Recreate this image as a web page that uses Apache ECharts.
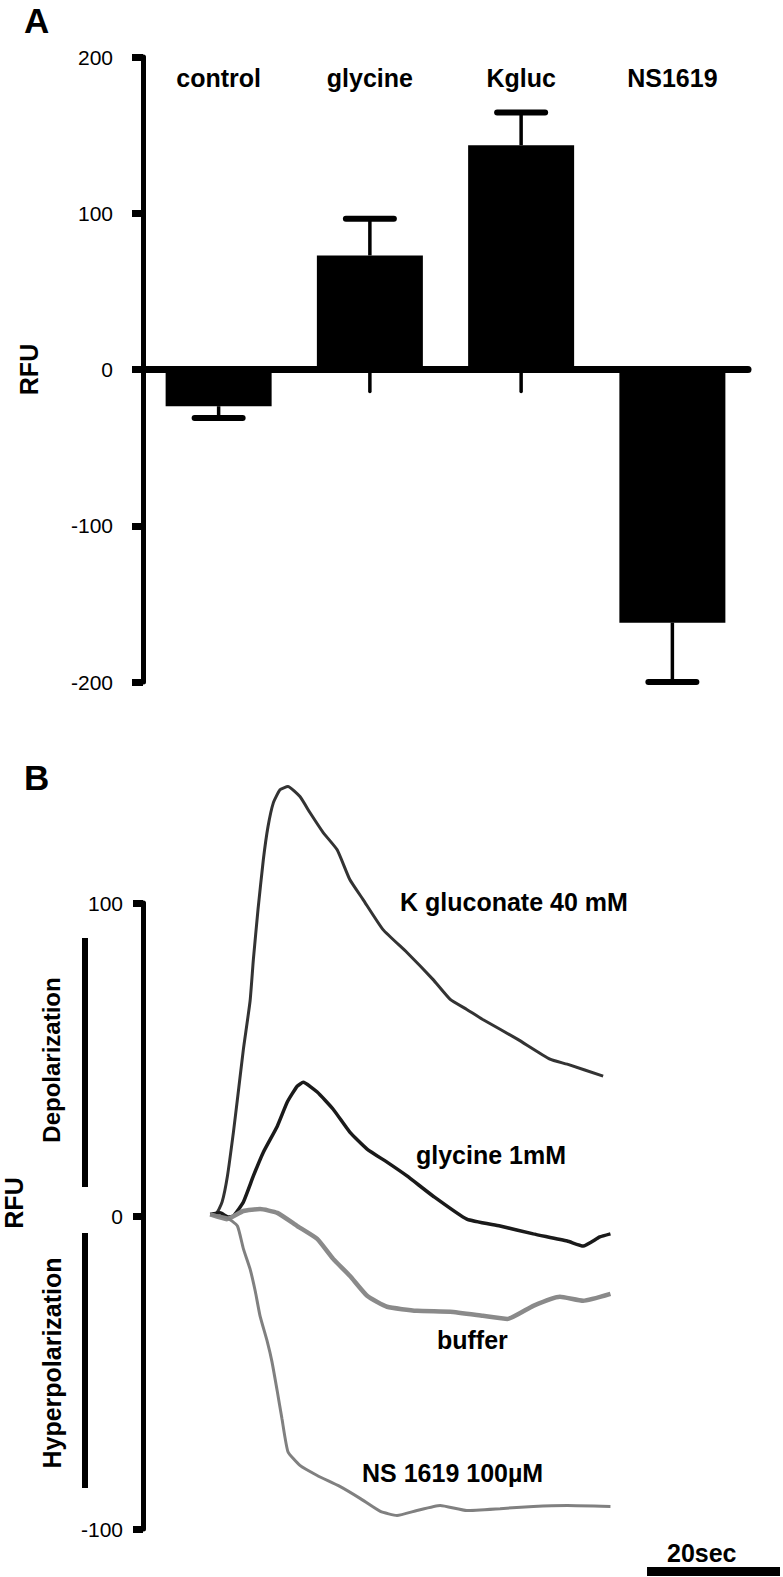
<!DOCTYPE html>
<html><head><meta charset="utf-8">
<script src="https://cdn.jsdelivr.net/npm/echarts@6/dist/echarts.min.js"></script>
<style>html,body{margin:0;padding:0;background:#fff}#c{width:783px;height:1577px}</style>
</head><body><div id="c"></div>
<script>
// ---------- Panel A data ----------
const categories = ['control', 'glycine', 'Kgluc', 'NS1619'];
const meanRFU = [-23.5, 73, 143.5, -162];
const semRFU = [7.5, 23.5, 21, 38];
const stubEnd = [null, -14, -14, null];
const barAxisMin = -200, barAxisMax = 200, barAxisStep = 100;

// ---------- Panel B data: [time (s), RFU] ----------
const kgluconate = [[0,0.5],[1,1],[1.8,4.5],[2.6,12.8],[3.5,26.8],[4.1,37.3],[5,53.3],[6,68.6],[6.5,82],[7.2,98],[8,113.9],[8.7,124.4],[9.5,132],[10.5,136.2],[11.7,137.2],[13.5,134],[15,128.9],[17,122.5],[19.1,117],[21,107.5],[23,101.1],[26,91.5],[29.6,84.2],[33.5,75.6],[36.1,69.2],[38.6,66],[41,62.8],[46.2,56.5],[51.1,50.1],[53.7,48.5],[59.1,44.7]];
const glycine1mM = [[0,0.5],[1.5,1],[2.7,-0.3],[3.5,0],[5,4.5],[6.5,12.8],[8,20.4],[10.1,28.7],[11.6,36.4],[13.1,41.5],[14,42.7],[16.1,39.6],[18.5,34.1],[21,26.8],[23.6,21.4],[26.6,17.2],[29.6,12.8],[33.5,6.4],[38.6,-1],[43.6,-3.2],[48.6,-5.7],[53.7,-8],[56.1,-9.6],[58.6,-6.7],[60.2,-5.7]];
const buffer = [[0,0.5],[2.5,-1],[5,1.6],[7.5,2.2],[10.1,1],[13.1,-3.2],[16.1,-7.3],[18.5,-13.7],[21,-19.1],[23.6,-25.5],[26.6,-29],[31.1,-30.3],[36.1,-30.6],[41,-31.9],[44.7,-32.9],[48.6,-28.7],[52.6,-25.8],[56.1,-27.1],[60.2,-24.9]];
const ns1619 = [[0,0.5],[2.5,-0.5],[4.1,-3.2],[5,-10.5],[6,-16.9],[6.8,-24.2],[7.5,-31.9],[8.6,-40.2],[9.3,-46.6],[10.1,-56.1],[10.8,-64.8],[11.7,-75.3],[13.5,-79.7],[16.1,-82.9],[19.5,-86.4],[22.6,-90.3],[25.6,-94.4],[28.1,-95.7],[31.1,-94.1],[34.6,-92.5],[38.6,-94.1],[43.6,-93.5],[48.6,-92.8],[53.7,-92.5],[60.2,-92.8]];
const scaleBar = [[65.7,-113.6],[85.7,-113.6]];
const timeAxisMin = -10.1, timeAxisMax = 86;
const traceAxisMin = -100, traceAxisMax = 100, traceAxisStep = 100;

const FONT = '"Liberation Sans", Arial, Helvetica, sans-serif';
const chart = echarts.init(document.getElementById('c'), null, {renderer: 'svg'});

function traceSeries(name, data, color, width) {
  return {
    name, type: 'line', xAxisIndex: 2, yAxisIndex: 1, data,
    symbol: 'none', smooth: 0.15, clip: false, silent: true,
    lineStyle: {color, width}
  };
}

const option = {
  backgroundColor: '#fff',
  animation: false,
  textStyle: {fontFamily: FONT},
  title: [
    {text: 'A', left: 24, top: 3, padding: 0, textStyle: {fontSize: 35, fontWeight: 'bold', color: '#000', fontFamily: FONT}},
    {text: 'B', left: 24, top: 760, padding: 0, textStyle: {fontSize: 35, fontWeight: 'bold', color: '#000', fontFamily: FONT}}
  ],
  grid: [
    {left: 143, top: 57, width: 605, height: 625},
    {left: 143, top: 903, width: 639, height: 626}
  ],
  xAxis: [
    {type: 'category', gridIndex: 0, data: categories,
     axisLine: {onZero: true, lineStyle: {color: '#000', width: 7}},
     axisTick: {show: false}, axisLabel: {show: false}, splitLine: {show: false}},
    {type: 'category', gridIndex: 0, data: categories, position: 'top',
     axisLine: {show: false}, axisTick: {show: false},
     axisLabel: {inside: true, margin: 8, fontSize: 25, fontWeight: 'bold', color: '#000', fontFamily: FONT}},
    {type: 'value', gridIndex: 1, min: timeAxisMin, max: timeAxisMax, show: false}
  ],
  yAxis: [
    {type: 'value', gridIndex: 0, min: barAxisMin, max: barAxisMax, interval: barAxisStep,
     name: 'RFU', nameLocation: 'middle', nameGap: 102,
     nameTextStyle: {fontSize: 25, fontWeight: 'bold', color: '#000', fontFamily: FONT},
     axisLine: {show: true, lineStyle: {color: '#000', width: 5}},
     axisTick: {show: true, length: 11, lineStyle: {color: '#000', width: 7}},
     axisLabel: {fontSize: 21, color: '#000', margin: 30, fontFamily: FONT},
     splitLine: {show: false}},
    {type: 'value', gridIndex: 1, min: traceAxisMin, max: traceAxisMax, interval: traceAxisStep,
     axisLine: {show: true, onZero: false, lineStyle: {color: '#000', width: 5}},
     axisTick: {show: true, length: 10, lineStyle: {color: '#000', width: 7}},
     axisLabel: {fontSize: 21, color: '#000', margin: 20, fontFamily: FONT},
     splitLine: {show: false}}
  ],
  series: [
    {type: 'bar', xAxisIndex: 0, yAxisIndex: 0, data: meanRFU, barWidth: 106,
     itemStyle: {color: '#000'}, silent: true, z: 2},
    {type: 'custom', xAxisIndex: 0, yAxisIndex: 0, z: 3, silent: true,
     data: categories.map((c, i) => [i, meanRFU[i], semRFU[i]]),
     renderItem(params, api) {
       const i = api.value(0), m = api.value(1), e = api.value(2);
       const end = m + Math.sign(m) * e;
       const p0 = api.coord([i, m]), p1 = api.coord([i, end]);
       const half = 24;
       const children = [
         {type: 'line', shape: {x1: p0[0], y1: p0[1], x2: p1[0], y2: p1[1]}, style: {stroke: '#000', lineWidth: 3.5}},
         {type: 'line', shape: {x1: p1[0] - half, y1: p1[1], x2: p1[0] + half, y2: p1[1]}, style: {stroke: '#000', lineWidth: 6, lineCap: 'round'}}
       ];
       const s = stubEnd[params.dataIndex];
       if (s !== null) {
         const z = api.coord([i, 0]), q = api.coord([i, s]);
         children.push({type: 'line', shape: {x1: z[0], y1: z[1], x2: q[0], y2: q[1]}, style: {stroke: '#000', lineWidth: 3.5, lineCap: 'round'}});
       }
       return {type: 'group', children};
     }},
    traceSeries('K gluconate 40 mM', kgluconate, '#333', 3),
    traceSeries('glycine 1mM', glycine1mM, '#1a1a1a', 3.5),
    traceSeries('buffer', buffer, '#8a8a8a', 4.5),
    traceSeries('NS 1619 100µM', ns1619, '#808080', 3),
    {type: 'line', xAxisIndex: 2, yAxisIndex: 1, data: scaleBar, symbol: 'none', clip: false, silent: true,
     lineStyle: {color: '#000', width: 9, cap: 'butt'}}
  ],
  graphic: [
    {type: 'text', left: 400, top: 889, style: {text: 'K gluconate 40 mM', font: 'bold 25px ' + FONT, fill: '#000'}},
    {type: 'text', left: 416, top: 1142, style: {text: 'glycine 1mM', font: 'bold 25px ' + FONT, fill: '#000'}},
    {type: 'text', left: 437, top: 1327, style: {text: 'buffer', font: 'bold 25px ' + FONT, fill: '#000'}},
    {type: 'text', left: 362, top: 1460, style: {text: 'NS 1619 100µM', font: 'bold 25px ' + FONT, fill: '#000'}},
    {type: 'text', left: 667, top: 1540, style: {text: '20sec', font: 'bold 25px ' + FONT, fill: '#000'}},
    {type: 'text', x: 14, y: 1203, rotation: Math.PI / 2,
     style: {text: 'RFU', font: 'bold 25px ' + FONT, fill: '#000', textAlign: 'center', textVerticalAlign: 'middle'}},
    {type: 'text', x: 51, y: 1060, rotation: Math.PI / 2,
     style: {text: 'Depolarization', font: 'bold 24px ' + FONT, fill: '#000', textAlign: 'center', textVerticalAlign: 'middle'}},
    {type: 'text', x: 52, y: 1363, rotation: Math.PI / 2,
     style: {text: 'Hyperpolarization', font: 'bold 25px ' + FONT, fill: '#000', textAlign: 'center', textVerticalAlign: 'middle'}},
    {type: 'rect', shape: {x: 82, y: 938, width: 6, height: 249}, style: {fill: '#000'}},
    {type: 'rect', shape: {x: 82, y: 1233, width: 6, height: 255}, style: {fill: '#000'}}
  ]
};
chart.setOption(option);
</script></body></html>
